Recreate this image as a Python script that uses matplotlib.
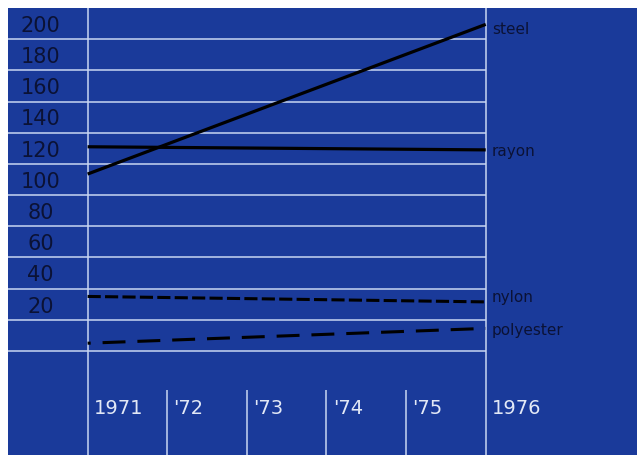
import matplotlib.pyplot as plt

# fibre output index, start and end of the period
years = [1971, 1976]
steel = [113.5, 209.5]
rayon = [131, 129]
nylon = [35, 31.5]
polyester = [5, 14.5]

series_names = ['steel', 'rayon', 'nylon', 'polyester']
y_ticks = [20, 40, 60, 80, 100, 120, 140, 160, 180, 200]
grid_levels = [0] + y_ticks
year_labels = ['1971', "'72", "'73", "'74", "'75", '1976']
year_pos = [1971, 1972, 1973, 1974, 1975, 1976]

blue = '#1a3a9a'
grid_col = '#c8d6f2'
ink = '#0b1235'

fig = plt.figure(figsize=(6.37, 4.55), dpi=100)
fig.patch.set_facecolor('white')
ax = fig.add_axes([8 / 637, 0, 629 / 637, 447 / 455])
ax.set_facecolor(blue)
ax.set_xlim(1970.0, 1977.9)
ax.set_ylim(-66.7, 220)
for s in ax.spines.values():
    s.set_visible(False)
ax.set_xticks([])
ax.set_yticks([])

# white ruling
ax.hlines(grid_levels, 1970.0, 1976, color=grid_col, lw=1.1, zorder=1)
ax.vlines([1971, 1976], -66.7, 220, color=grid_col, lw=1.1, zorder=1)
ax.vlines(year_pos[1:-1], -66.7, -25, color=grid_col, lw=1.1, zorder=1)

# series
ax.plot(years, steel, color='black', lw=2.3, solid_capstyle='butt', zorder=3)
ax.plot(years, rayon, color='black', lw=2.3, solid_capstyle='butt', zorder=3)
ax.plot(years, nylon, color='black', lw=2.2, linestyle=(0, (4.3, 1.4)), zorder=3)
ax.plot(years, polyester, color='black', lw=2.2, linestyle=(6.5, (7.5, 3.9)), zorder=3)

# series names at the right edge
ends = [steel[-1] - 3, rayon[-1] - 1, nylon[-1] + 2.5, polyester[-1] - 1.5]
for name, v in zip(series_names, ends):
    ax.text(1976.08, v, name, color=ink, fontsize=11, va='center', ha='left', zorder=4)

# value labels sit just above their line
for v in y_ticks:
    ax.text(1970.41, v + 8.5, str(v), color=ink, fontsize=15, va='center', ha='center', zorder=4)

# year labels in the bottom band
for x, lab in zip(year_pos, year_labels):
    ax.text(x + 0.08, -37, lab, color='#e2e8f6', fontsize=14, va='center', ha='left', zorder=4)

fig.savefig('out.png', dpi=100, facecolor='white')
